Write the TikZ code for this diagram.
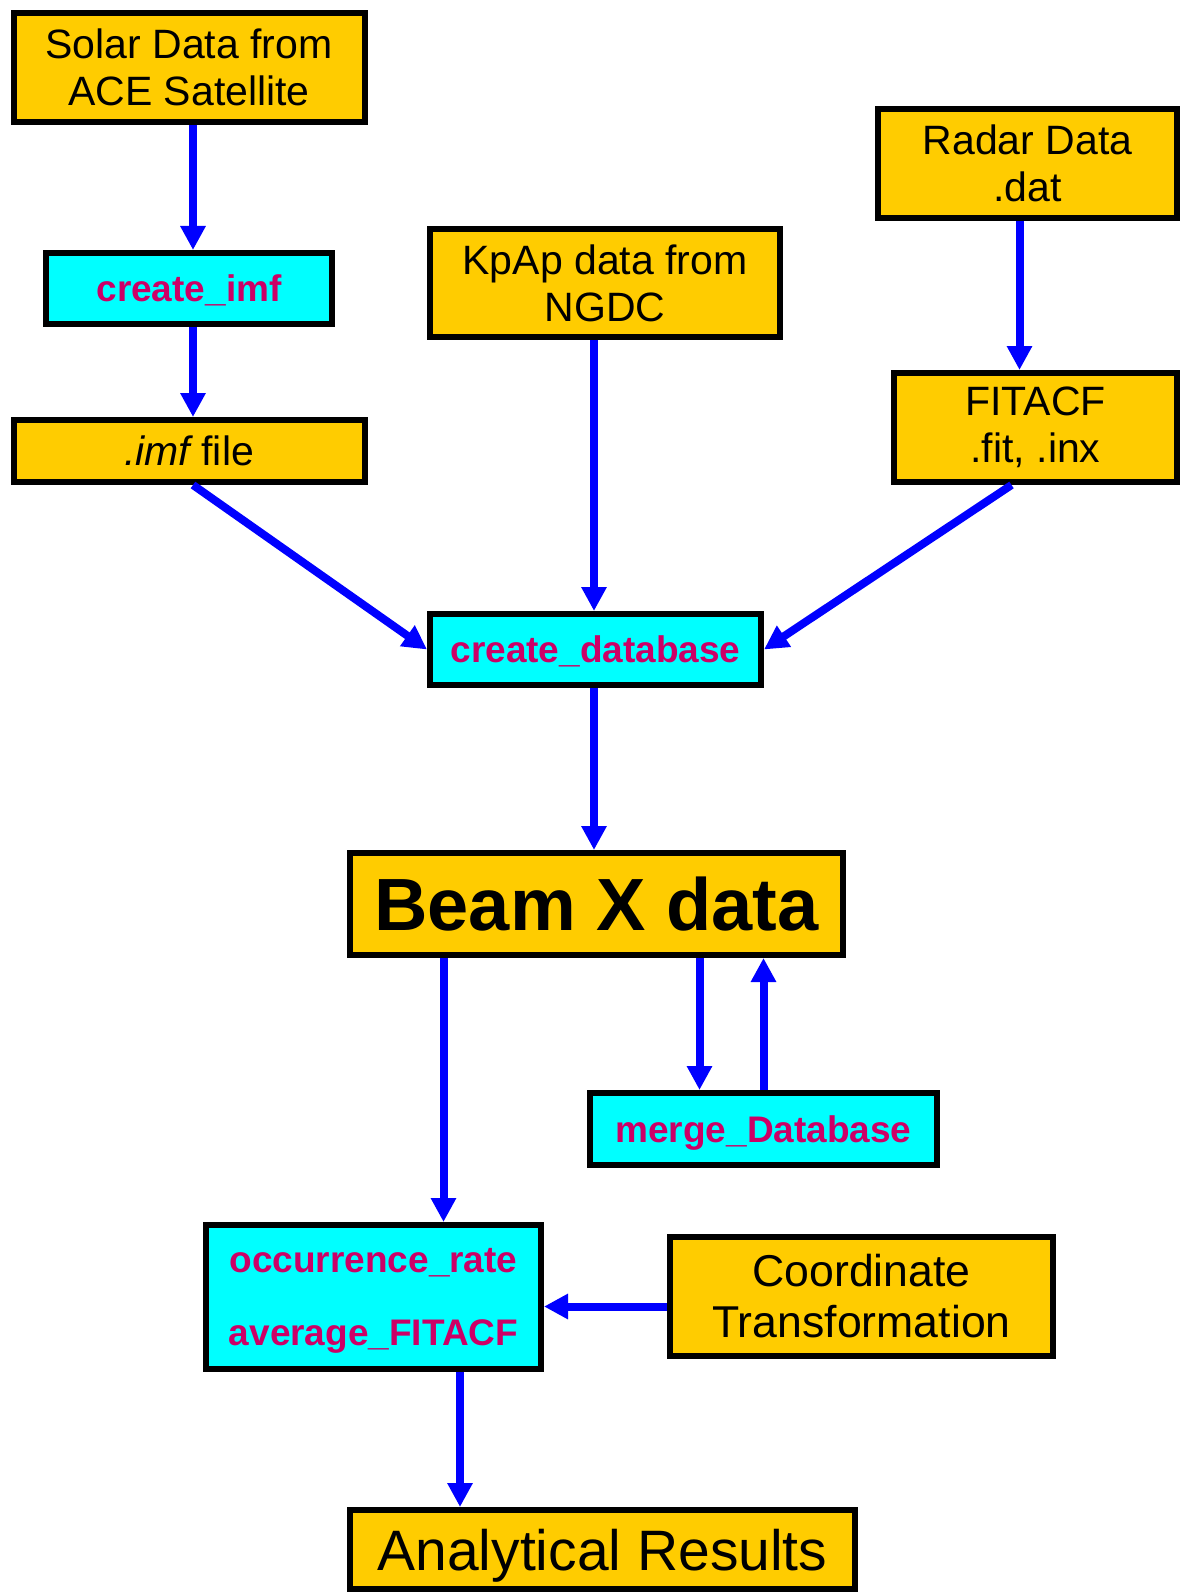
\documentclass[tikz,border=0pt]{standalone}
\usepackage{fontspec}
\setmainfont{Liberation Sans}
\usetikzlibrary{arrows.meta,positioning,calc}
\definecolor{boxgold}{RGB}{255,204,0}
\definecolor{toolcyan}{RGB}{0,255,255}
\definecolor{toolpink}{RGB}{204,0,102}

\begin{document}
\begin{tikzpicture}[x=1pt,y=-1pt,
  box/.style={draw=black, line width=6pt, fill=boxgold, align=center, inner sep=0pt, font=\fontsize{41}{47}\selectfont},
  tool/.style={box, fill=toolcyan, text=toolpink, text depth=0pt, font=\fontsize{37}{44}\selectfont\bfseries},
  flow/.style={draw=blue, line width=8pt, -{Triangle[width=24pt,length=24pt]}}]
\useasboundingbox (0,0) rectangle (1182,1594);
% sources
\node[box, minimum width=351pt, minimum height=109pt] (solar) at (189,67.5) {Solar Data from\\ACE Satellite};
\node[tool, minimum width=286pt, minimum height=71pt] (cimf) at (189,288.5) {create\_imf};
\node[box, minimum width=351pt, minimum height=62pt] (imffile) at (189,451) {{\itshape .imf} file};
\node[box, minimum width=350pt, minimum height=108pt] (kpap) at (605,283) {KpAp data from\\NGDC};
\node[box, minimum width=299pt, minimum height=109pt] (radar) at (1027.5,163.5) {Radar Data\\.dat};
\node[box, minimum width=283pt, minimum height=109pt] (fitacf) at (1035.5,427.5) {FITACF\\.fit, .inx};
% database
\node[tool, minimum width=331pt, minimum height=71pt] (cdb) at (595.5,649.5) {create\_database};
\node[box, minimum width=493pt, minimum height=102pt, font=\fontsize{74}{80}\selectfont\bfseries] (beam) at (596.5,904) {Beam X data};
\node[tool, minimum width=347pt, minimum height=72pt] (merge) at (763.5,1129) {merge\_Database};
% analysis
\node[tool, minimum width=335pt, minimum height=144pt, font=\fontsize{37}{73}\selectfont\bfseries] (occ) at (373.5,1297) {occurrence\_rate\\average\_FITACF};
\node[box, minimum width=383pt, minimum height=119pt, font=\fontsize{44.6}{51}\selectfont] (coord) at (861.5,1296.5) {Coordinate\\Transformation};
\node[box, minimum width=505pt, minimum height=79pt, text depth=0pt, font=\fontsize{57}{64}\selectfont] (anal) at (602.5,1549.5) {Analytical Results};

\draw[flow] ([xshift=4pt]solar.south) -- ([xshift=4pt]cimf.north);
\draw[flow] ([xshift=4pt]cimf.south) -- ([xshift=4pt]imffile.north);
\draw[flow] ([xshift=4pt]imffile.south) -- (cdb.west);
\draw[flow] ([xshift=-1.5pt]cdb.north |- kpap.south) -- ([xshift=-1.5pt]cdb.north);
\draw[flow] ([xshift=-8pt]radar.south) -- ([xshift=-8pt]radar.south |- fitacf.north);
\draw[flow] ([xshift=-24pt]fitacf.south) -- (cdb.east);
\draw[flow] ([xshift=-1.5pt]cdb.south) -- ([xshift=-1.5pt]cdb.south |- beam.north);
\draw[flow] ([xshift=-153pt]beam.south) -- ([xshift=-153pt]beam.south |- occ.north);
\draw[flow] ([xshift=-64pt]merge.north |- beam.south) -- ([xshift=-64pt]merge.north);
\draw[flow] (merge.north) -- (merge.north |- beam.south);
\draw[flow] ([yshift=-10pt]coord.west) -- ([yshift=-10pt]coord.west -| occ.east);
\draw[flow] ([xshift=86.5pt]occ.south) -- ([xshift=86.5pt]occ.south |- anal.north);
\end{tikzpicture}
\end{document}
